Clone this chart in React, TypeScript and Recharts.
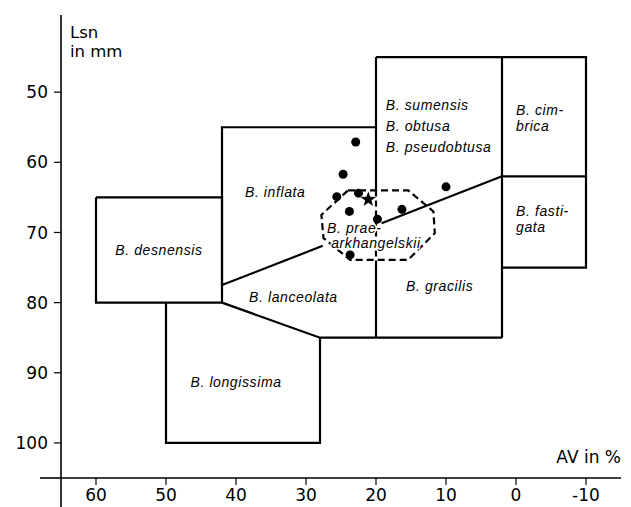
import React from "react";
import {
  ReferenceLine,
  Scatter,
  ScatterChart,
  XAxis,
  YAxis,
} from "recharts";

// AV in % (x, reversed) vs Lsn in mm (y, reversed)
const xTicks = [60, 50, 40, 30, 20, 10, 0, -10];
const yTicks = [50, 60, 70, 80, 90, 100];

// field outlines, vertices as [AV, Lsn]
const desnensisBox = [
  { x: 60, y: 65 }, { x: 42, y: 65 }, { x: 42, y: 80 }, { x: 60, y: 80 }, { x: 60, y: 65 },
];
const longissimaBox = [
  { x: 50, y: 80 }, { x: 50, y: 100 }, { x: 28, y: 100 }, { x: 28, y: 85 },
];
const lowerEdge = [
  { x: 42, y: 80 }, { x: 28, y: 85 }, { x: 20, y: 85 }, { x: 2, y: 85 },
];
const diagonalLeft = [
  { x: 42, y: 77.5 }, { x: 27.6, y: 71.9 },
];
const diagonalRight = [
  { x: 19.2, y: 68.7 }, { x: 2, y: 62 },
];
const inflataTop = [
  { x: 42, y: 77.5 }, { x: 42, y: 55 }, { x: 20, y: 55 },
];
const line20Upper = [{ x: 20, y: 45 }, { x: 20, y: 64 }];
const line20Inner = [{ x: 20, y: 64 }, { x: 20, y: 74 }];
const line20Lower = [{ x: 20, y: 74 }, { x: 20, y: 85 }];
const rightBlock = [
  { x: 20, y: 45 }, { x: -10, y: 45 }, { x: -10, y: 75 }, { x: 2, y: 75 },
];
const line2 = [{ x: 2, y: 45 }, { x: 2, y: 85 }];
const cimbricaSplit = [{ x: 2, y: 62 }, { x: -10, y: 62 }];

const praeArkhangelskii = [
  { x: 24, y: 64 }, { x: 15.4, y: 64 }, { x: 11.8, y: 67 }, { x: 11.6, y: 70.1 },
  { x: 15.4, y: 73.9 }, { x: 23.7, y: 73.9 }, { x: 27.5, y: 70.8 }, { x: 27.8, y: 67.5 },
  { x: 24, y: 64 },
];

const samples = [
  { x: 22.9, y: 57.1 },
  { x: 24.7, y: 61.7 },
  { x: 25.6, y: 64.9 },
  { x: 22.5, y: 64.4 },
  { x: 23.8, y: 67.0 },
  { x: 19.8, y: 68.1 },
  { x: 16.3, y: 66.7 },
  { x: 10.0, y: 63.5 },
  { x: 23.7, y: 73.2 },
];
const holotype = [{ x: 21.1, y: 65.3 }];

const speciesLabels = [
  { text: "B. desnensis", x: 51, y: 72.5, anchor: "middle" },
  { text: "B. inflata", x: 34.4, y: 64.2, anchor: "middle" },
  { text: "B. lanceolata", x: 31.8, y: 79.2, anchor: "middle" },
  { text: "B. longissima", x: 40, y: 91.3, anchor: "middle" },
  { text: "B. sumensis", x: 18.6, y: 51.8, anchor: "start" },
  { text: "B. obtusa", x: 18.6, y: 54.8, anchor: "start" },
  { text: "B. pseudobtusa", x: 18.6, y: 57.8, anchor: "start" },
  { text: "B. gracilis", x: 10.9, y: 77.7, anchor: "middle" },
  { text: "B. cim-", x: 0, y: 52.5, anchor: "start" },
  { text: "brica", x: 0, y: 54.8, anchor: "start" },
  { text: "B. fasti-", x: 0, y: 66.9, anchor: "start" },
  { text: "gata", x: 0, y: 69.2, anchor: "start" },
  { text: "B. prae-", x: 27.0, y: 69.4, anchor: "start", halo: true },
  { text: "arkhangelskii", x: 26.4, y: 71.5, anchor: "start", halo: true },
];

const outlines = [
  desnensisBox, longissimaBox, lowerEdge, diagonalLeft, diagonalRight, inflataTop,
  line20Upper, line20Lower, rightBlock, line2, cimbricaSplit,
];

const axisFont = "'DejaVu Sans', sans-serif";
const labelFont = "'Liberation Sans', Arial, sans-serif";

const Empty = () => <g />;

const Dot = (props: any) => <circle cx={props.cx} cy={props.cy} r={4.5} fill="#000" />;

const Star = (props: any) => {
  const { cx, cy } = props;
  const pts: string[] = [];
  for (let i = 0; i < 10; i++) {
    const r = i % 2 === 0 ? 8 : 3.3;
    const a = -Math.PI / 2 + (i * Math.PI) / 5;
    pts.push(`${cx + r * Math.cos(a)},${cy + r * Math.sin(a)}`);
  }
  return <polygon points={pts.join(" ")} fill="#000" />;
};

const SpeciesLabel = (props: any) => {
  const d = props.payload || props;
  return (
    <text
      x={props.cx}
      y={props.cy}
      textAnchor={d.anchor}
      dominantBaseline="central"
      fontFamily={labelFont}
      fontStyle="italic"
      fontSize={14}
      letterSpacing={0.6}
      fill="#000"
      stroke={d.halo ? "#fff" : "none"}
      strokeWidth={d.halo ? 3 : 0}
      paintOrder="stroke"
    >
      {d.text}
    </text>
  );
};

const YTitle = (props: any) => {
  const vb = props.viewBox;
  return (
    <text x={vb.x + vb.width + 9} y={vb.y + 23} fontFamily={axisFont} fontSize={16.5} fill="#000">
      <tspan x={vb.x + vb.width + 9}>Lsn</tspan>
      <tspan x={vb.x + vb.width + 9} dy={19}>in mm</tspan>
    </text>
  );
};

const XTitle = (props: any) => {
  const vb = props.viewBox;
  return (
    <text x={vb.x + vb.width} y={vb.y - 15} textAnchor="end" fontFamily={axisFont} fontSize={17} fill="#000">
      AV in %
    </text>
  );
};

export default function App() {
  return (
    <div style={{ position: "absolute", left: 0, top: 0, background: "#fff" }}>
      <ScatterChart width={631} height={507} margin={{ top: 15, right: 10, left: 0, bottom: 0 }}>
        <XAxis
          type="number"
          dataKey="x"
          domain={[-15, 65]}
          reversed
          allowDataOverflow
          ticks={xTicks}
          height={29}
          tickSize={7}
          tickMargin={4}
          axisLine={{ stroke: "#000", strokeWidth: 1.6 }}
          tickLine={{ stroke: "#000", strokeWidth: 1.2 }}
          tick={{ fill: "#000", fontSize: 17, fontFamily: axisFont }}
          label={<XTitle />}
        />
        <YAxis
          type="number"
          dataKey="y"
          domain={[39, 105]}
          reversed
          allowDataOverflow
          ticks={yTicks}
          width={61}
          tickSize={7}
          tickMargin={6}
          axisLine={{ stroke: "#000", strokeWidth: 1.6 }}
          tickLine={{ stroke: "#000", strokeWidth: 1.2 }}
          tick={{ fill: "#000", fontSize: 17, fontFamily: axisFont }}
          label={<YTitle />}
        />
        <ReferenceLine
          segment={[{ x: 68, y: 105 }, { x: 65, y: 105 }]}
          ifOverflow="visible"
          stroke="#000"
          strokeWidth={1.6}
        />
        <ReferenceLine
          segment={[{ x: 65, y: 105 }, { x: 65, y: 109.2 }]}
          ifOverflow="visible"
          stroke="#000"
          strokeWidth={1.6}
        />
        {outlines.map((pts, i) => (
          <Scatter
            key={`o${i}`}
            data={pts}
            line={{ stroke: "#000", strokeWidth: 2.2 }}
            shape={Empty}
            isAnimationActive={false}
            legendType="none"
          />
        ))}
        <Scatter
          data={line20Inner}
          line={{ stroke: "#000", strokeWidth: 2.2, strokeDasharray: "6 4" }}
          shape={Empty}
          isAnimationActive={false}
          legendType="none"
        />
        <Scatter
          data={praeArkhangelskii}
          line={{ stroke: "#000", strokeWidth: 2.2, strokeDasharray: "7 4" }}
          shape={Empty}
          isAnimationActive={false}
          legendType="none"
        />
        <Scatter data={samples} shape={Dot} isAnimationActive={false} legendType="none" />
        <Scatter data={holotype} shape={Star} isAnimationActive={false} legendType="none" />
        <Scatter data={speciesLabels} shape={SpeciesLabel} isAnimationActive={false} legendType="none" />
      </ScatterChart>
    </div>
  );
}
